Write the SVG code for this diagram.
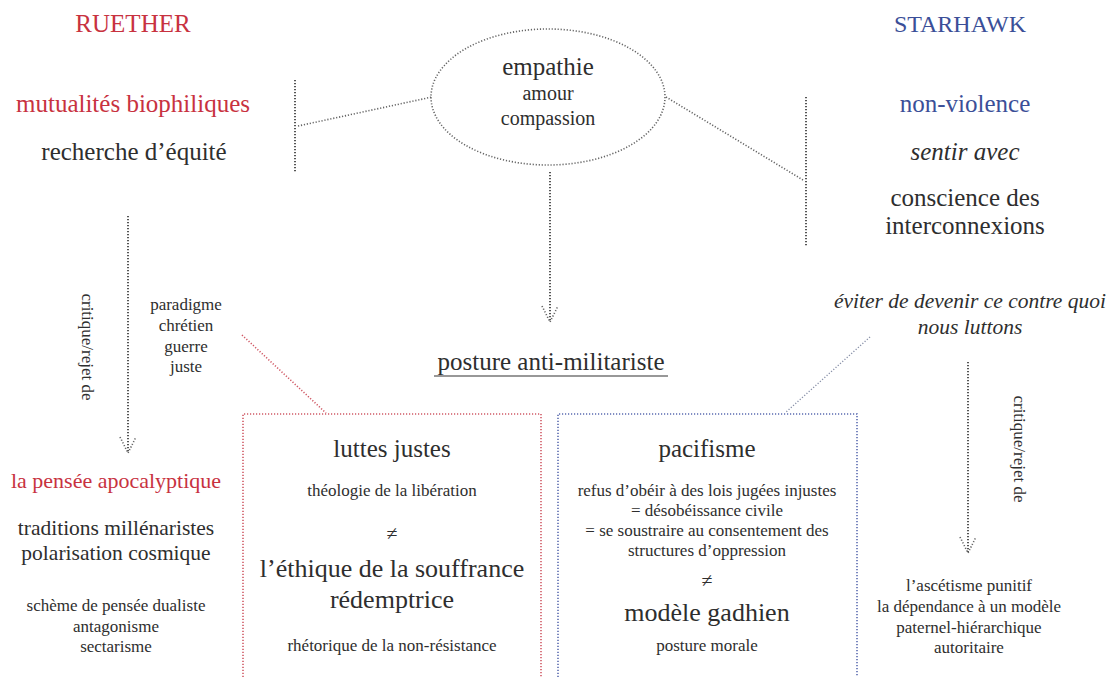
<svg xmlns="http://www.w3.org/2000/svg" width="1115" height="677" viewBox="0 0 1115 677" font-family="Liberation Serif">
  <style>
    .t { fill: #2e2e2e; }
    .red { fill: #c8323f; }
    .blue { fill: #3b4f98; }
    .dot { fill: none; stroke: #555; stroke-width: 2; stroke-dasharray: 1.2 1.8; }
    .dotthin { fill: none; stroke: #666; stroke-width: 1.6; stroke-dasharray: 1.2 1.8; }
    .dotred { fill: none; stroke: #d05a66; stroke-width: 1.6; stroke-dasharray: 1.2 1.8; }
    .dotblue { fill: none; stroke: #5a6bb0; stroke-width: 1.6; stroke-dasharray: 1.2 1.8; }
    .dotgrey { fill: none; stroke: #8890a8; stroke-width: 1.4; stroke-dasharray: 1.2 1.8; }
  </style>
  <rect width="1115" height="677" fill="#ffffff"/>

  <!-- connectors -->
  <g id="connectors">
    <line class="dot" x1="295" y1="80" x2="295" y2="172"/>
    <line class="dotthin" x1="298" y1="126" x2="432" y2="97"/>
    <line class="dotthin" x1="666" y1="97" x2="803" y2="180"/>
    <line class="dot" x1="806" y1="97" x2="806" y2="246"/>
    <!-- centre arrow -->
    <line class="dot" x1="550" y1="172" x2="550" y2="321"/>
    <path class="dotthin" d="M542,306 L550,322 L558,306"/>
    <!-- left arrow -->
    <line class="dot" x1="128" y1="216" x2="128" y2="452"/>
    <path class="dotthin" d="M120,437 L128,453 L136,437"/>
    <!-- right arrow -->
    <line class="dot" x1="968" y1="362" x2="968" y2="552"/>
    <path class="dotthin" d="M960,537 L968,553 L976,537"/>
    <!-- links to boxes -->
    <line class="dotred" x1="242" y1="335" x2="326" y2="413"/>
    <line class="dotgrey" x1="870" y1="337" x2="785" y2="413"/>
  </g>

  <g id="ruether" text-anchor="middle">
    <text class="red" font-family="Liberation Serif" x="133" y="32" font-size="25">RUETHER</text>
    <text class="red" font-family="Liberation Serif" x="133" y="112" font-size="25">mutualités biophiliques</text>
    <text class="t" font-family="Liberation Serif" x="134" y="160" font-size="25">recherche d’équité</text>
  </g>

  <g id="starhawk" text-anchor="middle">
    <text class="blue" font-family="Liberation Serif" x="960" y="32" font-size="24">STARHAWK</text>
    <text class="blue" font-family="Liberation Serif" x="965" y="112" font-size="25">non-violence</text>
    <text class="t" font-family="Liberation Serif" font-style="italic" x="965" y="160" font-size="25">sentir avec</text>
    <text class="t" font-family="Liberation Serif" x="965" y="206" font-size="25">conscience des</text>
    <text class="t" font-family="Liberation Serif" x="965" y="234" font-size="25">interconnexions</text>
  </g>

  <g id="empathie" text-anchor="middle">
    <ellipse class="dotthin" cx="548" cy="97" rx="117" ry="68"/>
    <text class="t" font-family="Liberation Serif" x="548" y="75" font-size="25">empathie</text>
    <text class="t" font-family="Liberation Serif" x="548" y="100" font-size="20">amour</text>
    <text class="t" font-family="Liberation Serif" x="548" y="125" font-size="20">compassion</text>
  </g>

  <g id="critique-left" text-anchor="middle">
    <text class="t" font-family="Liberation Serif" x="0" y="0" font-size="17" transform="translate(82,347) rotate(90)">critique/rejet de</text>
  </g>

  <g id="paradigme" text-anchor="middle">
    <text class="t" font-family="Liberation Serif" x="186" y="310" font-size="17">paradigme</text>
    <text class="t" font-family="Liberation Serif" x="186" y="331" font-size="17">chrétien</text>
    <text class="t" font-family="Liberation Serif" x="186" y="352" font-size="17">guerre</text>
    <text class="t" font-family="Liberation Serif" x="186" y="372" font-size="17">juste</text>
  </g>

  <g id="posture" text-anchor="middle">
    <text class="t" font-family="Liberation Serif" x="551" y="370" font-size="25">posture anti-militariste</text>
    <line x1="434" y1="376" x2="668" y2="376" stroke="#333" stroke-width="1.2"/>
  </g>

  <g id="eviter" text-anchor="middle">
    <text class="t" font-family="Liberation Serif" font-style="italic" x="970" y="308" font-size="21.5">éviter de devenir ce contre quoi</text>
    <text class="t" font-family="Liberation Serif" font-style="italic" x="970" y="334" font-size="21.5">nous luttons</text>
  </g>

  <g id="critique-right" text-anchor="middle">
    <text class="t" font-family="Liberation Serif" x="0" y="0" font-size="17" transform="translate(1014,449) rotate(90)">critique/rejet de</text>
  </g>

  <g id="apocalyptique" text-anchor="middle">
    <text class="red" font-family="Liberation Serif" x="116" y="488" font-size="22">la pensée apocalyptique</text>
    <text class="t" font-family="Liberation Serif" x="116" y="535" font-size="21.5">traditions millénaristes</text>
    <text class="t" font-family="Liberation Serif" x="116" y="560" font-size="21.5">polarisation cosmique</text>
    <text class="t" font-family="Liberation Serif" x="116" y="611" font-size="17">schème de pensée dualiste</text>
    <text class="t" font-family="Liberation Serif" x="116" y="632" font-size="17">antagonisme</text>
    <text class="t" font-family="Liberation Serif" x="116" y="652" font-size="17">sectarisme</text>
  </g>

  <g id="luttes" text-anchor="middle">
    <path class="dotred" d="M243,680 L243,414 L541,414 L541,680"/>
    <text class="t" font-family="Liberation Serif" x="392" y="457" font-size="25">luttes justes</text>
    <text class="t" font-family="Liberation Serif" x="392" y="496" font-size="17">théologie de la libération</text>
    <text class="t" font-family="Liberation Serif" x="392" y="540" font-size="20">≠</text>
    <text class="t" font-family="Liberation Serif" x="392" y="577" font-size="26">l’éthique de la souffrance</text>
    <text class="t" font-family="Liberation Serif" x="392" y="608" font-size="26">rédemptrice</text>
    <text class="t" font-family="Liberation Serif" x="392" y="651" font-size="17">rhétorique de la non-résistance</text>
  </g>

  <g id="pacifisme" text-anchor="middle">
    <path class="dotblue" d="M558,680 L558,414 L857,414 L857,680"/>
    <text class="t" font-family="Liberation Serif" x="707" y="457" font-size="25">pacifisme</text>
    <text class="t" font-family="Liberation Serif" x="707" y="496" font-size="17">refus d’obéir à des lois jugées injustes</text>
    <text class="t" font-family="Liberation Serif" x="707" y="516" font-size="17">= désobéissance civile</text>
    <text class="t" font-family="Liberation Serif" x="707" y="536" font-size="17">= se soustraire au consentement des</text>
    <text class="t" font-family="Liberation Serif" x="707" y="556" font-size="17">structures d’oppression</text>
    <text class="t" font-family="Liberation Serif" x="707" y="587" font-size="20">≠</text>
    <text class="t" font-family="Liberation Serif" x="707" y="621" font-size="26">modèle gadhien</text>
    <text class="t" font-family="Liberation Serif" x="707" y="651" font-size="17">posture morale</text>
  </g>

  <g id="ascetisme" text-anchor="middle">
    <text class="t" font-family="Liberation Serif" x="969" y="591" font-size="17">l’ascétisme punitif</text>
    <text class="t" font-family="Liberation Serif" x="969" y="612" font-size="17">la dépendance à un modèle</text>
    <text class="t" font-family="Liberation Serif" x="969" y="633" font-size="17">paternel-hiérarchique</text>
    <text class="t" font-family="Liberation Serif" x="969" y="653" font-size="17">autoritaire</text>
  </g>
</svg>
